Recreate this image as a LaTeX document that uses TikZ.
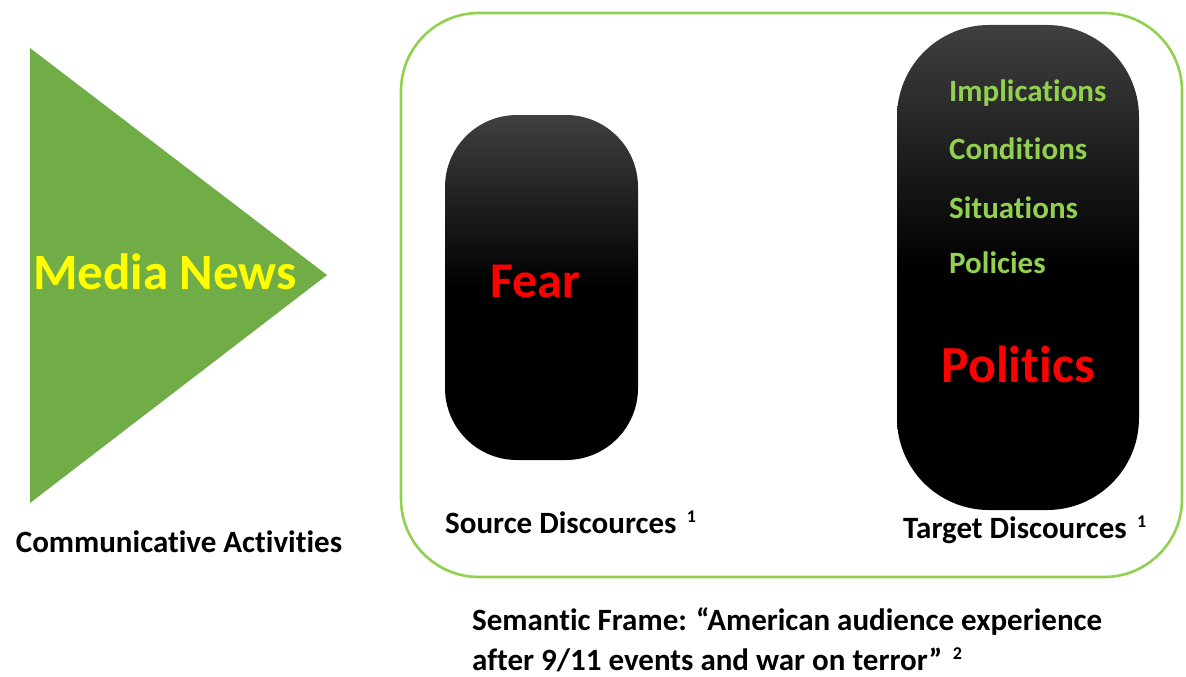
\documentclass[tikz,border=0pt]{standalone}
\usepackage{fontspec}
\setmainfont[Ligatures=NoCommon]{Carlito}
\definecolor{trigreen}{HTML}{70AD47}
\definecolor{litegreen}{HTML}{92D050}
\definecolor{myred}{HTML}{FF0000}
\definecolor{myyellow}{HTML}{FFFF00}
\newcommand{\supone}[1]{\,\,{\fontsize{18}{18}\selectfont\raisebox{11pt}{#1}}}
\begin{document}
\begin{tikzpicture}[x=1pt,y=-1pt,
  lbl/.style={font=\fontsize{31}{40}\selectfont\bfseries, inner sep=0pt},
  item/.style={lbl, text=litegreen, anchor=base west},
  big/.style={font=\fontsize{#1}{#1}\selectfont\bfseries, inner sep=0pt, anchor=base},
  pill/.style={draw=none, inner sep=0pt, top color=black!75, bottom color=black, middle color=black},
  frame/.style={draw=litegreen, line width=2.6pt, inner sep=0pt, rounded corners=78pt}
]
\useasboundingbox (0,0) rectangle (1186,677);
% triangle
\fill[trigreen] (30,48) -- (327,275) -- (30,503) -- cycle;
\node[big=51, text=myyellow] (media) at (165,289) {Media News};
\node[lbl, anchor=base] (comm) at (179,552) {Communicative Activities};
% frame
\node[frame, minimum width=781pt, minimum height=564pt] (frm) at (791.5,295) {};
% source box
\node[pill, rounded corners=72pt, minimum width=193pt, minimum height=345pt] (src) at (541.5,287.5) {};
\node[big=50, text=myred] (fear) at (535,297) {Fear};
\node[lbl, anchor=base west] (srclbl) at (445,533) {Source Discources\supone{1}};
% target box
\node[pill, rounded corners=92pt, minimum width=242pt, minimum height=485pt] (tgt) at (1018,267.5) {};
\node[item] (impl) at (949,102) {Implications};
\node[item] (cond) at (949,159) {Conditions};
\node[item] (sit) at (949,218) {Situations};
\node[item] (pol) at (949,273) {Policies};
\node[big=52, text=myred] (politics) at (1018,382) {Politics};
\node[lbl, anchor=base west] (tgtlbl) at (903,538) {Target Discources\supone{1}};
% semantic frame
\node[lbl, anchor=base west] (sem1) at (472,630) {Semantic Frame: “American audience experience};
\node[lbl, anchor=base west] (sem2) at (472,670) {after 9/11 events and war on terror”\supone{2}};
\end{tikzpicture}
\end{document}
